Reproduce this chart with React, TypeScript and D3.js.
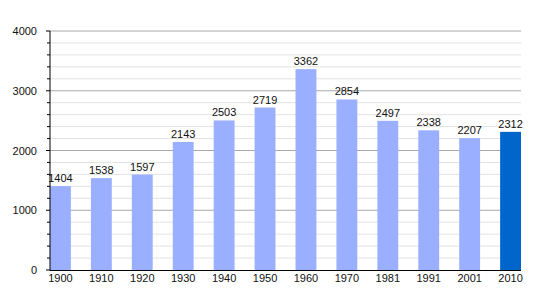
import React from "react";
import * as d3 from "d3";

const years = ["1900", "1910", "1920", "1930", "1940", "1950", "1960", "1970", "1981", "1991", "2001", "2010"];
const population = [1404, 1538, 1597, 2143, 2503, 2719, 3362, 2854, 2497, 2338, 2207, 2312];
const majorTicks = [0, 1000, 2000, 3000, 4000];
const minorTicks = d3.range(0, 4001, 200);

const W = 550, H = 300;
const left = 50, right = 521, top = 31, bottom = 270;

export default function App() {
  const x = d3.scaleBand<string>().domain(years).range([left, right]).paddingInner(0.49).paddingOuter(0);
  const y = d3.scaleLinear().domain([0, 4000]).range([bottom, top]);
  const font = "'Liberation Sans', Arial, sans-serif";
  return (
    <svg width={W} height={H} style={{ display: "block", position: "absolute", left: 0, top: 0 }} fontFamily={font}>
      <rect x={0} y={0} width={W} height={H} fill="#fff" />
      {minorTicks.filter(t => t % 1000 !== 0).map(t => (
        <line key={"mg" + t} x1={left} x2={right} y1={y(t)} y2={y(t)} stroke="#e2e2e2" strokeWidth={1} />
      ))}
      {majorTicks.filter(t => t !== 0).map(t => (
        <line key={"Mg" + t} x1={left} x2={right} y1={y(t)} y2={y(t)} stroke="#a8a8a8" strokeWidth={1} />
      ))}
      {years.map((yr, i) => (
        <rect key={yr} x={x(yr)} y={y(population[i])} width={x.bandwidth()} height={bottom - y(population[i])}
          fill={i === years.length - 1 ? "#0066cc" : "#9aafff"} />
      ))}
      {years.map((yr, i) => (
        <text key={"v" + yr} x={(x(yr) as number) + x.bandwidth() / 2} y={y(population[i]) - 4}
          textAnchor="middle" fontSize={11} fill="#111">{population[i]}</text>
      ))}
      {minorTicks.filter(t => t % 1000 !== 0).map(t => (
        <line key={"mt" + t} x1={left - 3} x2={left} y1={y(t)} y2={y(t)} stroke="#000" strokeWidth={1} />
      ))}
      {majorTicks.map(t => (
        <line key={"Mt" + t} x1={left - 4} x2={left} y1={y(t)} y2={y(t)} stroke="#000" strokeWidth={1} />
      ))}
      {majorTicks.map(t => (
        <text key={"yl" + t} x={37} y={y(t) + 4} textAnchor="end" fontSize={11} fill="#111">{t}</text>
      ))}
      <line x1={left} x2={left} y1={top} y2={bottom + 0.5} stroke="#000" strokeWidth={1} />
      <line x1={left} x2={right} y1={bottom + 0.5} y2={bottom + 0.5} stroke="#000" strokeWidth={1} />
      {years.map(yr => (
        <text key={"xl" + yr} x={(x(yr) as number) + x.bandwidth() / 2} y={282} textAnchor="middle" fontSize={11} fill="#111">{yr}</text>
      ))}
    </svg>
  );
}
